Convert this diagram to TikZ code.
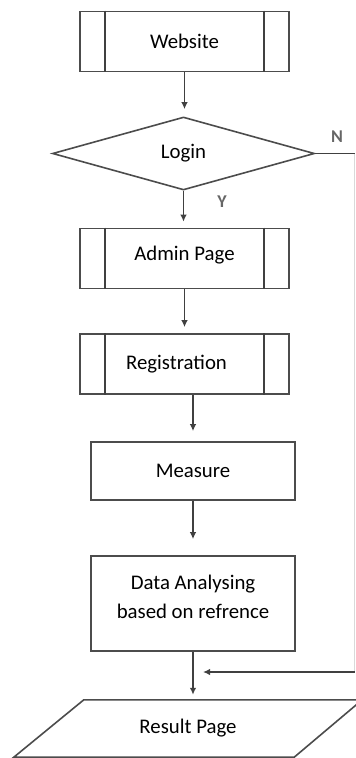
\documentclass[tikz,border=0pt]{standalone}
\usepackage{fontspec}
\setmainfont{Carlito}
\usetikzlibrary{shapes.geometric,arrows.meta}

\begin{document}
\begin{tikzpicture}[x=1pt, y=-1pt,
    every node/.style={font=\fontsize{20.8}{25}\selectfont},
    box/.style={draw=black!70, line width=1.6pt, minimum width=204pt, minimum height=58pt, inner sep=0pt},
    sub/.style={box, minimum width=209pt, minimum height=60pt},
    decide/.style={diamond, draw=black!70, line width=1.6pt, minimum width=262pt, minimum height=73pt, aspect=3.6, inner sep=0pt},
    io/.style={minimum width=348pt, minimum height=57pt, inner sep=0pt},
    link/.style={draw=black!75, line width=1.5pt},
    flow/.style={link, -{Latex[length=7pt,width=6.5pt]}, shorten >=6pt},
    tag/.style={font=\fontsize{18}{20}\selectfont\bfseries, text=black!60}
  ]

    % Page size of the drawing
    \clip (0,0) rectangle (356,758);

    % Draw the boxes of the flow
    \node[sub] (web) at (184.5,41.5) {Website};
    \node[decide] (login) at (183.5,153.5) {Login};
    \node[sub] (admin) at (184.5,258.5) {\raisebox{11pt}{Admin Page}};
    \node[sub] (reg) at (184.5,364) {Registration\hspace*{16pt}};
    \node[box] (meas) at (193,471) {Measure};
    \node[box, minimum height=95pt, align=center] (data) at (193,603.5) {Data Analysing\\[4pt]based on refrence\\[-12pt]};
    \node[io] (result) at (188,728.5) {Result Page};

    % Side bars of the predefined processes
    \foreach \n in {web,admin,reg} {
        \draw[link] ([xshift=26pt]\n.north west) -- ([xshift=26pt]\n.south west);
        \draw[link] ([xshift=-26pt]\n.north east) -- ([xshift=-26pt]\n.south east);
    }

    % Slanted sides of the result page
    \draw[link, line width=1.6pt, draw=black!70] ([xshift=70pt]result.north west) -- (result.north east)
        -- ([xshift=-68pt]result.south east) -- (result.south west) -- cycle;

    % Arrows down the flow
    \draw[flow, shorten >=7pt] (web.south) -- (web.south |- login.north);
    \draw[flow] (login.south) -- (login.south |- admin.north);
    \draw[flow] (admin.south) -- (admin.south |- reg.north);
    \draw[flow, shorten >=10pt] (reg.south -| meas.north) -- (meas.north);
    \draw[flow, shorten >=16pt] (meas.south) -- (data.north);
    \draw[flow, shorten >=5pt] (data.south) -- (data.south |- result.north);

    \node[tag] (yes) at (222,202) {Y};
    \node[tag] (no) at (337,137) {N};

    % Way back from N to the result
    \coordinate (rail) at (354.5,672);
    \draw[link] (login.east) -- (login.east -| rail);
    \draw[link, draw=black!15] (login.east -| rail) -- (rail);
    \draw[flow, shorten >=10pt] (rail) -- (rail -| data.south);

\end{tikzpicture}
\end{document}
